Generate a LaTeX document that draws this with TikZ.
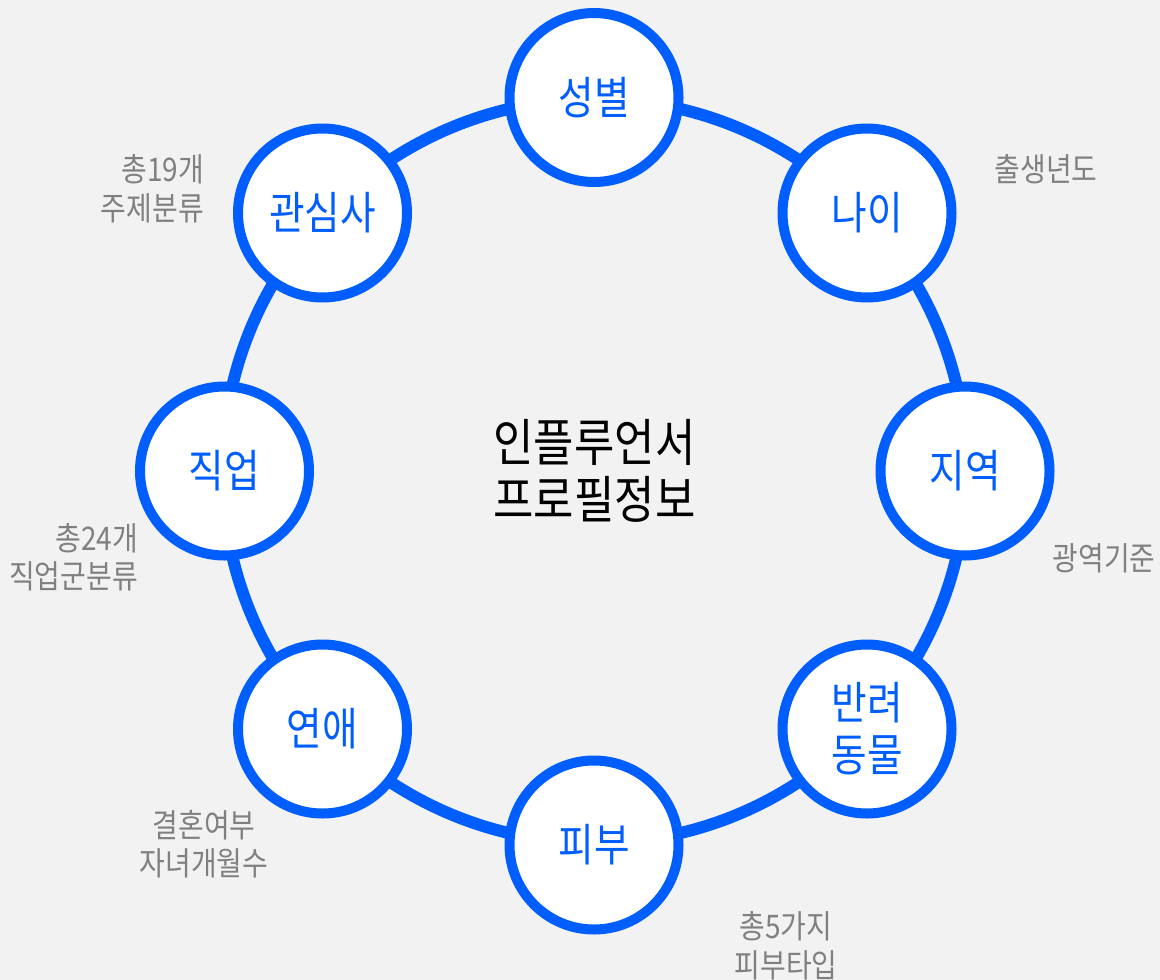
\documentclass[tikz,border=0pt]{standalone}
\usepackage{fontspec}
\newfontfamily\kr[FakeStretch=0.86]{Noto Sans CJK KR}
\definecolor{ringblue}{RGB}{0,94,255}
\definecolor{labelgray}{RGB}{128,128,128}
\definecolor{bggray}{RGB}{242,242,242}
\tikzset{
  topic/.style={circle, draw=ringblue, line width=10pt, fill=white,
    minimum size=169pt, inner sep=0pt, text=ringblue,
    font=\kr\fontsize{45}{52}\selectfont, align=center},
  note/.style={text=labelgray, font=\kr\fontsize{32.5}{38.5}\selectfont, inner sep=0pt},
  ring/.style={draw=ringblue, line width=12pt}
}
\begin{document}
\begin{tikzpicture}[x=1pt,y=-1pt]
\fill[bggray] (0,0) rectangle (1160,980);
\useasboundingbox (0,0) rectangle (1160,980);
\coordinate (ctr) at (594.5,471);
\draw[ring] (ctr) circle (372);
\node[topic] (seong) at (594,97.5) {성별};
\node[topic] (nai) at (867,213) {나이};
\node[topic] (jiyeok) at (965,471) {지역};
\node[topic] (banryeo) at (867,729) {반려\\동물};
\node[topic] (pibu) at (594,845) {피부};
\node[topic] (yeonae) at (322.5,729) {연애};
\node[topic] (jigeop) at (224.5,471) {직업};
\node[topic] (gwansim) at (322.5,213) {관심사};
\node[font=\kr\fontsize{51}{57}\selectfont, align=center, inner sep=0pt] (title) at (594.5,471) {인플루언서\\프로필정보};
\node[note, align=right, anchor=east] (n1) at (204,189) {총19개\\주제분류};
\node[note] (n2) at (1046,169) {출생년도};
\node[note] (n3) at (1104,558) {광역기준};
\node[note, align=right, anchor=east] (n4) at (138,557.5) {총24개\\직업군분류};
\node[note, align=center] (n5) at (204,844) {결혼여부\\자녀개월수};
\node[note, align=center] (n6) at (786,946) {총5가지\\피부타입};
\end{tikzpicture}
\end{document}
